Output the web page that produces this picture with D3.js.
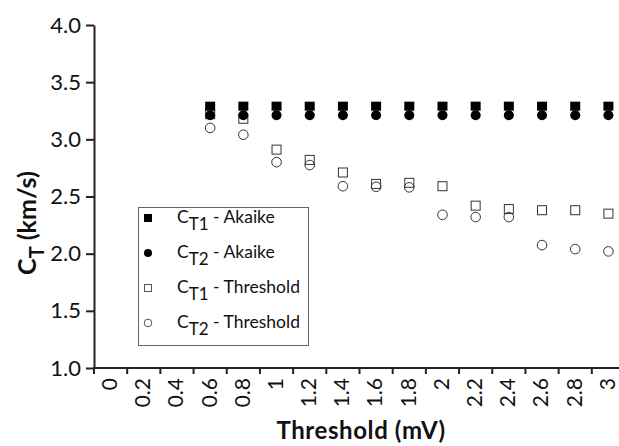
<!DOCTYPE html>
<html><head><meta charset="utf-8">
<script src="https://cdn.jsdelivr.net/npm/d3@7"></script>
<style>body{margin:0;background:#fff}svg{display:block}</style>
</head><body>
<svg id="c" width="619" height="446"></svg>
<script>
const categories = ["0","0.2","0.4","0.6","0.8","1","1.2","1.4","1.6","1.8","2","2.2","2.4","2.6","2.8","3"];
const dataCats = ["0.6","0.8","1","1.2","1.4","1.6","1.8","2","2.2","2.4","2.6","2.8","3"];
const ct1Akaike = [3.29,3.29,3.29,3.29,3.29,3.29,3.29,3.29,3.29,3.29,3.29,3.29,3.29];
const ct2Akaike = [3.21,3.21,3.21,3.21,3.21,3.21,3.21,3.21,3.21,3.21,3.21,3.21,3.21];
const ct1Threshold = [3.22,3.18,2.91,2.82,2.71,2.61,2.62,2.59,2.42,2.39,2.38,2.38,2.35];
const ct2Threshold = [3.10,3.04,2.80,2.775,2.59,2.585,2.58,2.34,2.32,2.32,2.075,2.04,2.02];
const yTicks = [1.0,1.5,2.0,2.5,3.0,3.5,4.0];

const svg = d3.select("#c");
const font = "Lato, 'Open Sans', sans-serif";
const x = d3.scaleBand().domain(categories).range([94, 625]).padding(0);
const y = d3.scaleLinear().domain([1,4]).range([368, 25]);

// y axis
const ya = svg.append("g").attr("transform","translate(94,0)")
  .call(d3.axisLeft(y).tickValues(yTicks).tickFormat(d3.format(".1f")).tickSize(8).tickPadding(5).tickSizeOuter(0));
ya.select(".domain").attr("stroke","#222").attr("stroke-width",2);
ya.selectAll(".tick line").attr("stroke","#222").attr("stroke-width",2);
ya.selectAll(".tick text").attr("font-family",font).attr("font-size",22).attr("fill","#111");

// x axis: labels at band centres, ticks at band boundaries
const xa = svg.append("g").attr("transform","translate(0,368)")
  .call(d3.axisBottom(x).tickSize(0).tickPadding(0).tickSizeOuter(0));
xa.select(".domain").remove();
svg.append("line").attr("x1",x.range()[0]-1).attr("x2",619).attr("y1",368).attr("y2",368)
  .attr("stroke","#222").attr("stroke-width",2);
const bounds = categories.map(c=>x(c));
svg.append("g").selectAll("line").data(bounds).join("line")
  .attr("x1",d=>d).attr("x2",d=>d).attr("y1",368).attr("y2",374)
  .attr("stroke","#222").attr("stroke-width",2);
xa.selectAll(".tick text")
  .attr("font-family",font).attr("font-size",21).attr("fill","#111")
  .attr("transform","translate(-1,10) rotate(-90)")
  .attr("text-anchor","end").attr("dy","0.35em").attr("x",0).attr("y",0);

// axis titles
svg.append("text").attr("x",361).attr("y",439).attr("text-anchor","middle")
  .attr("font-family",font).attr("font-weight","bold").attr("font-size",24).attr("letter-spacing",0.6).attr("fill","#111")
  .text("Threshold (mV)");
const yt = svg.append("text").attr("transform","translate(36,223) rotate(-90)").attr("text-anchor","middle")
  .attr("font-family",font).attr("font-weight","bold").attr("font-size",25).attr("fill","#111");
yt.append("tspan").text("C");
yt.append("tspan").attr("dy",8).attr("font-size",20).text("T");
yt.append("tspan").attr("dy",-8).text(" (km/s)");

const cx = i => x(dataCats[i]) + x.bandwidth()/2;
const g = svg.append("g");
// open square
g.selectAll(".os").data(ct1Threshold).join("rect").attr("class","os")
  .attr("x",(d,i)=>cx(i)-4.5).attr("y",d=>y(d)-4.5).attr("width",9).attr("height",9)
  .attr("fill","#fff").attr("stroke","#333").attr("stroke-width",1);
// filled square
g.selectAll(".fs").data(ct1Akaike).join("rect").attr("class","fs")
  .attr("x",(d,i)=>cx(i)-5).attr("y",d=>y(d)-4.5).attr("width",10).attr("height",9)
  .attr("fill","#000");
// filled circle
g.selectAll(".fc").data(ct2Akaike).join("circle").attr("class","fc")
  .attr("cx",(d,i)=>cx(i)).attr("cy",d=>y(d)).attr("r",5).attr("fill","#000");
// open circle
g.selectAll(".oc").data(ct2Threshold).join("circle").attr("class","oc")
  .attr("cx",(d,i)=>cx(i)).attr("cy",d=>y(d)).attr("r",4.8)
  .attr("fill","none").attr("stroke","#333").attr("stroke-width",1);

// legend
const lg = svg.append("g");
lg.append("rect").attr("x",138.5).attr("y",207.5).attr("width",170).attr("height",138)
  .attr("fill","#fff").attr("stroke","#666").attr("stroke-width",1);
const items = [
  {sub:"T1", name:" - Akaike", m:"fs"},
  {sub:"T2", name:" - Akaike", m:"fc"},
  {sub:"T1", name:" - Threshold", m:"os"},
  {sub:"T2", name:" - Threshold", m:"oc"}
];
items.forEach((it,i)=>{
  const yy = 218 + i*35;
  const mx = 148;
  if(it.m==="fs") lg.append("rect").attr("x",mx-4).attr("y",yy-4).attr("width",8).attr("height",8).attr("fill","#000");
  if(it.m==="fc") lg.append("circle").attr("cx",mx).attr("cy",yy).attr("r",4).attr("fill","#000");
  if(it.m==="os") lg.append("rect").attr("x",mx-3.5).attr("y",yy-3.5).attr("width",7).attr("height",7).attr("fill","#fff").attr("stroke","#555");
  if(it.m==="oc") lg.append("circle").attr("cx",mx).attr("cy",yy).attr("r",3.8).attr("fill","#fff").attr("stroke","#555");
  const t = lg.append("text").attr("x",177).attr("y",yy+5).attr("font-family",font).attr("font-size",17.5).attr("fill","#111");
  t.append("tspan").text("C");
  t.append("tspan").attr("dy",7).attr("font-size",17).text(it.sub);
  t.append("tspan").attr("dy",-7).text(it.name);
});
</script>
</body></html>
